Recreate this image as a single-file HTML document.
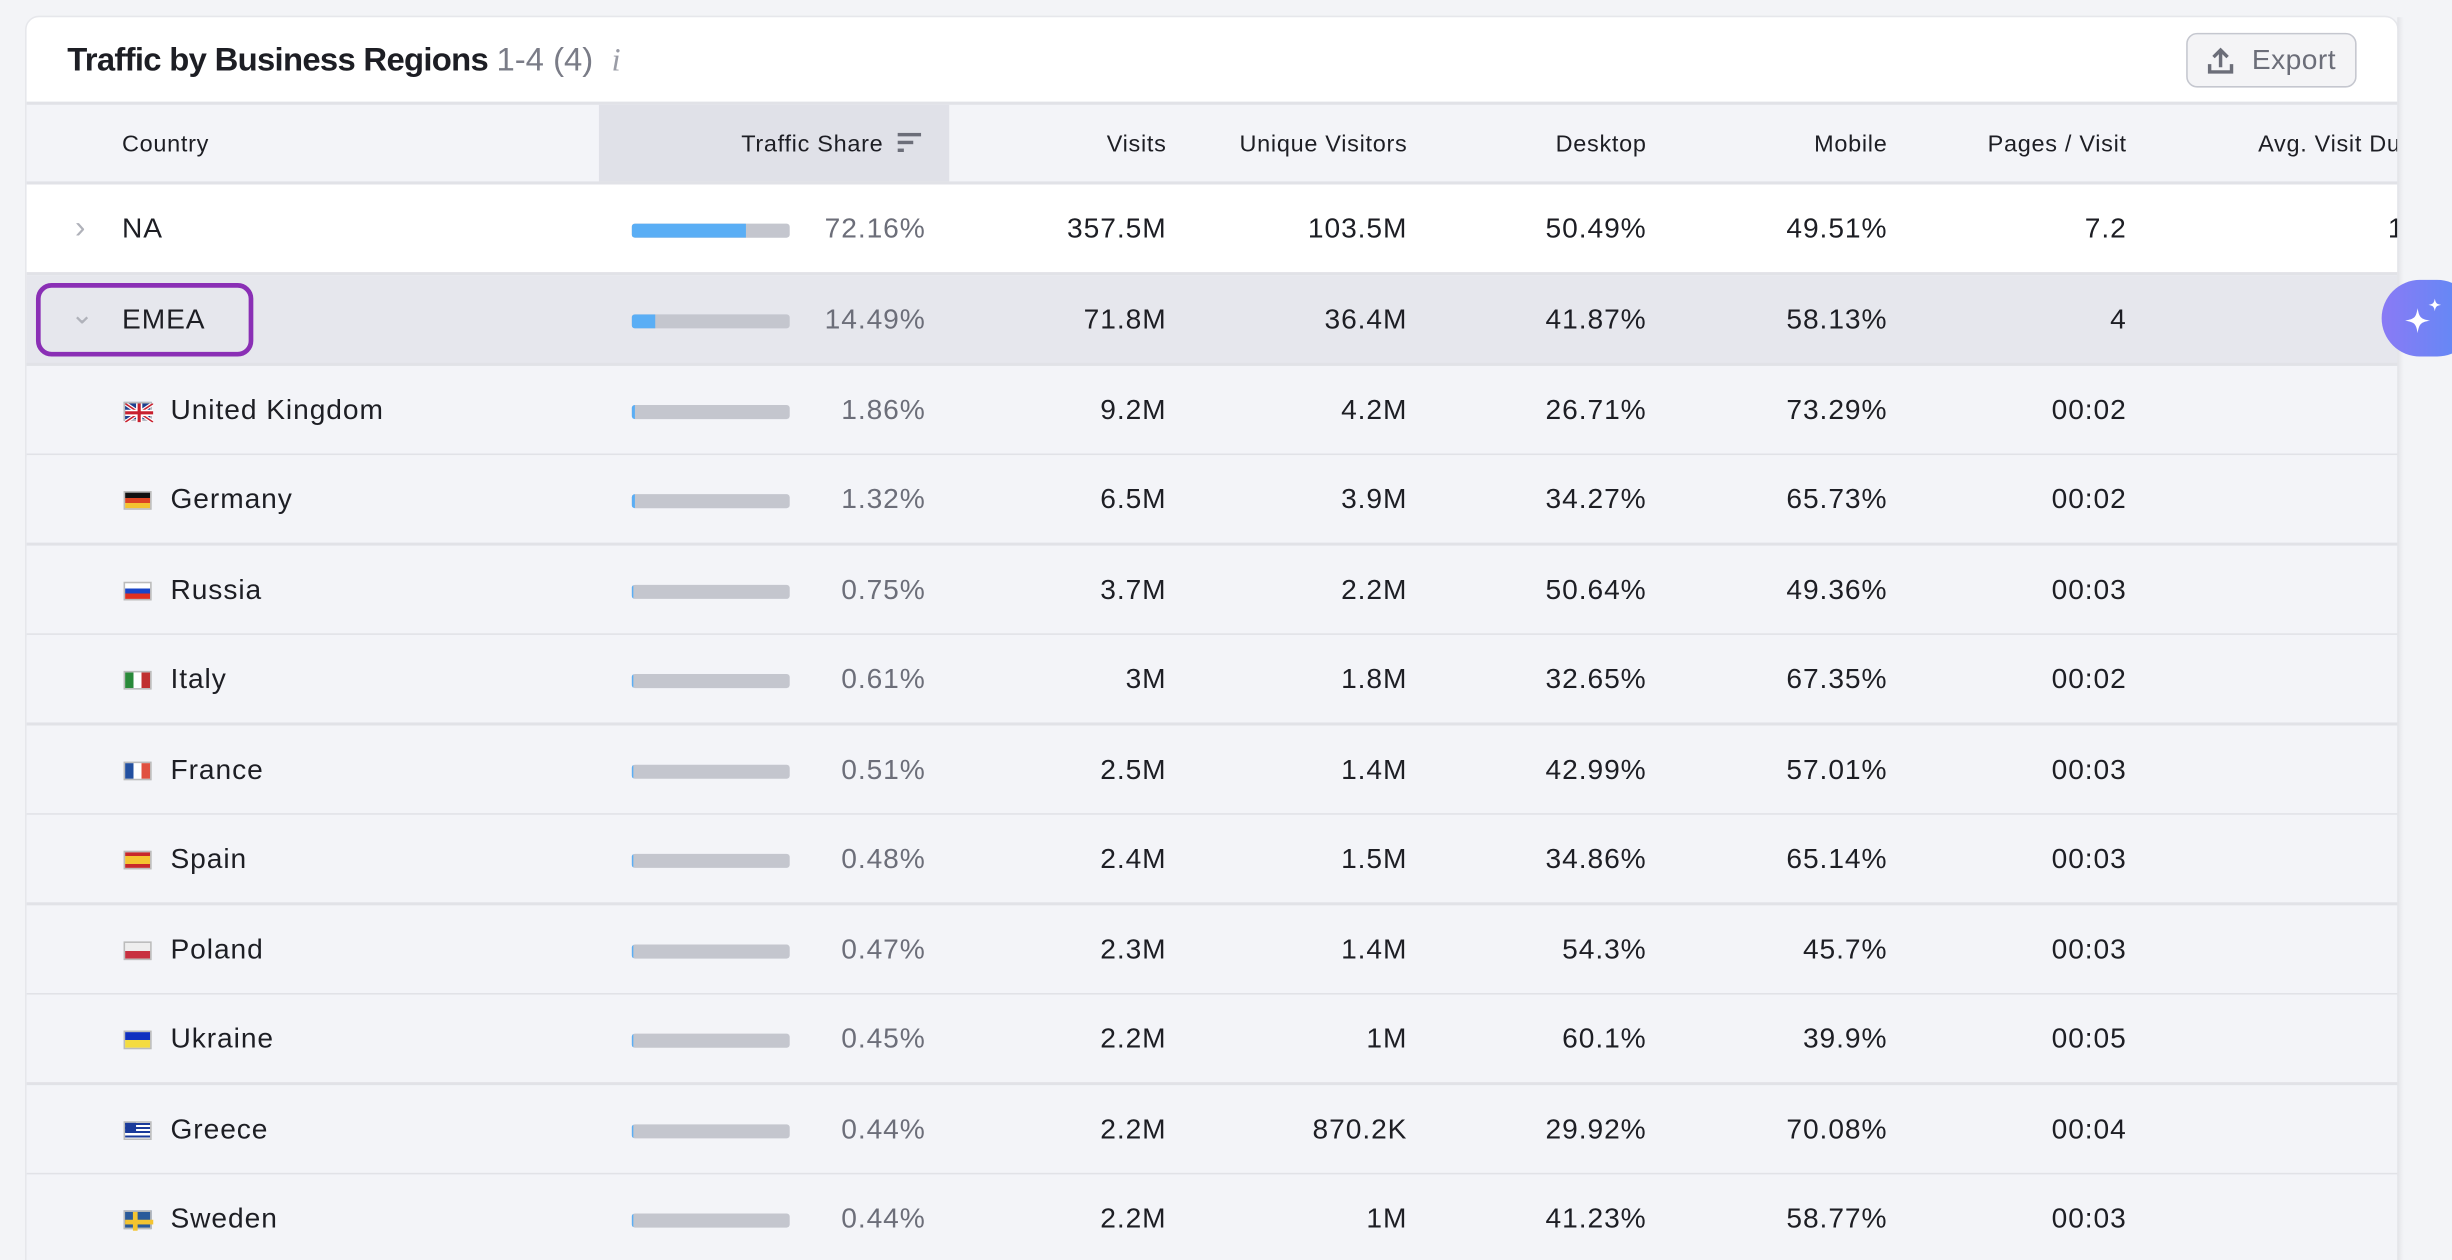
<!DOCTYPE html>
<html><head><meta charset="utf-8"><style>
*{margin:0;padding:0;box-sizing:border-box}
html,body{width:2452px;height:1260px;overflow:hidden;background:#f3f4f7}
#w{position:absolute;left:0;top:0;width:1568px;height:806px;transform:scale(1.56378);transform-origin:0 0;font-family:"Liberation Sans",sans-serif;color:#1d1e24;overflow:hidden}
.card{position:absolute;left:16px;top:10px;width:1518px;height:820px;background:#f3f4f8;border-radius:9px;border:1px solid #e6e7eb;overflow:hidden}
.top{position:absolute;left:0;top:0;width:1518px;height:55px;background:#fff}
.title{position:absolute;left:26px;top:15px;font-size:21px;font-weight:bold;letter-spacing:-0.45px}
.title span{font-weight:normal;color:#7a7c87;letter-spacing:0}
.export{position:absolute;left:1381px;top:10px;width:109px;height:35px;border:1.5px solid #c5c7cf;border-radius:7px;background:#f4f4f6;font-size:18px;color:#6c6e79;line-height:32px;padding-left:41px;letter-spacing:0.3px}
.hdr{position:absolute;left:0;top:54px;width:1518px;height:53px;background:#f3f4f8;border-top:2px solid #e1e2e7;border-bottom:2px solid #e1e2e7;font-size:15px;letter-spacing:0.45px}
.ts{position:absolute;left:366px;top:0;width:224px;height:49px;background:#e0e1e8}
.h{position:absolute;top:17px;white-space:nowrap}
.row{position:absolute;left:0;width:1518px;height:58px;border-bottom:2px solid #e1e2e7;background:#f3f4f8;font-size:18px;letter-spacing:0.6px}
.row span{position:absolute;top:18px;white-space:nowrap}
.bar{position:absolute;left:387px;top:25px;width:101px;height:9px;background:#c4c6ce;border-radius:2px;overflow:hidden}
.bar i{position:absolute;left:0;top:0;height:9px;background:#5aaef5}
.pct{color:#6c6e79}
.flag{position:absolute;left:62px;top:23px;width:18px;height:12px;border:0.5px solid #bbb}
</style></head><body><div id="w">
<div class="card">
<div class="top"></div>
<div class="title">Traffic by Business Regions <span>1-4 (4) &nbsp;<i style="font-family:'Liberation Serif',serif;color:#9a9ca6">i</i></span></div>
<div class="export"><svg style="position:absolute;left:12px;top:8px" width="18" height="18" viewBox="0 0 18 18"><path d="M9 13V2M4.5 6.5L9 2l4.5 4.5M2 11v5h14v-5" fill="none" stroke="#6c6e79" stroke-width="2.2"/></svg>Export</div>
<div class="hdr">
<div class="ts"></div>
<span class="h" style="left:61px">Country</span>
<span class="h" style="left:457px">Traffic Share</span>
<svg style="position:absolute;left:557px;top:17px" width="16" height="14"><rect x="0" y="1" width="15" height="2.2" fill="#6c6e79"/><rect x="0" y="6" width="10" height="2.2" fill="#6c6e79"/><rect x="0" y="11" width="4" height="2.2" fill="#6c6e79"/></svg>
<span class="h" style="right:789px">Visits</span>
<span class="h" style="right:635px">Unique Visitors</span>
<span class="h" style="right:482px">Desktop</span>
<span class="h" style="right:328px">Mobile</span>
<span class="h" style="right:175px">Pages / Visit</span>
<span class="h" style="left:1427px">Avg. Visit Duration</span>
</div>

<div class="row" style="top:107px;background:#fff"><span style="left:31px;color:#b0b2ba;top:17px;font-size:20px">›</span><span style="left:61px">NA</span><div class="bar"><i style="width:73px"></i></div><span class="pct" style="right:943px">72.16%</span><span style="right:789px">357.5M</span><span style="right:635px">103.5M</span><span style="right:482px">50.49%</span><span style="right:328px">49.51%</span><span style="right:175px">7.2</span><span style="left:1510px">1</span></div>
<div class="row" style="top:165px;background:#e6e7ed"><span style="left:28px;color:#b0b2ba;top:15px">⌄</span><span style="left:61px">EMEA</span><div class="bar"><i style="width:15px"></i></div><span class="pct" style="right:943px">14.49%</span><span style="right:789px">71.8M</span><span style="right:635px">36.4M</span><span style="right:482px">41.87%</span><span style="right:328px">58.13%</span><span style="right:175px">4</span></div>

<div class="row" style="top:222.5px"><div class="flag" style="background:#1f3f8f"><svg width="18" height="12" style="position:absolute;left:0;top:0"><path d="M0 0L18 12M18 0L0 12" stroke="#fff" stroke-width="2.5"/><path d="M0 0L18 12M18 0L0 12" stroke="#c8202f" stroke-width="1"/><path d="M9 0V12M0 6H18" stroke="#fff" stroke-width="4"/><path d="M9 0V12M0 6H18" stroke="#c8202f" stroke-width="2"/></svg></div><span style="left:92px">United Kingdom</span><div class="bar"><i style="width:2px"></i></div><span class="pct" style="right:943px">1.86%</span><span style="right:789px">9.2M</span><span style="right:635px">4.2M</span><span style="right:482px">26.71%</span><span style="right:328px">73.29%</span><span style="right:175px">00:02</span></div>
<div class="row" style="top:280px"><div class="flag" style="background:linear-gradient(#111 33%,#d42 33%,#d42 66%,#f4c430 66%)"></div><span style="left:92px">Germany</span><div class="bar"><i style="width:2px"></i></div><span class="pct" style="right:943px">1.32%</span><span style="right:789px">6.5M</span><span style="right:635px">3.9M</span><span style="right:482px">34.27%</span><span style="right:328px">65.73%</span><span style="right:175px">00:02</span></div>
<div class="row" style="top:337.5px"><div class="flag" style="background:linear-gradient(#fff 33%,#1a45c8 33%,#1a45c8 66%,#e03020 66%)"></div><span style="left:92px">Russia</span><div class="bar"><i style="width:1px"></i></div><span class="pct" style="right:943px">0.75%</span><span style="right:789px">3.7M</span><span style="right:635px">2.2M</span><span style="right:482px">50.64%</span><span style="right:328px">49.36%</span><span style="right:175px">00:03</span></div>
<div class="row" style="top:395px"><div class="flag" style="background:linear-gradient(90deg,#2a8a3a 33%,#fff 33%,#fff 66%,#c03030 66%)"></div><span style="left:92px">Italy</span><div class="bar"><i style="width:1px"></i></div><span class="pct" style="right:943px">0.61%</span><span style="right:789px">3M</span><span style="right:635px">1.8M</span><span style="right:482px">32.65%</span><span style="right:328px">67.35%</span><span style="right:175px">00:02</span></div>
<div class="row" style="top:452.5px"><div class="flag" style="background:linear-gradient(90deg,#2350a0 33%,#fff 33%,#fff 66%,#e05040 66%)"></div><span style="left:92px">France</span><div class="bar"><i style="width:1px"></i></div><span class="pct" style="right:943px">0.51%</span><span style="right:789px">2.5M</span><span style="right:635px">1.4M</span><span style="right:482px">42.99%</span><span style="right:328px">57.01%</span><span style="right:175px">00:03</span></div>
<div class="row" style="top:510px"><div class="flag" style="background:linear-gradient(#c8282a 25%,#f4c430 25%,#f4c430 75%,#c8282a 75%)"></div><span style="left:92px">Spain</span><div class="bar"><i style="width:1px"></i></div><span class="pct" style="right:943px">0.48%</span><span style="right:789px">2.4M</span><span style="right:635px">1.5M</span><span style="right:482px">34.86%</span><span style="right:328px">65.14%</span><span style="right:175px">00:03</span></div>
<div class="row" style="top:567.5px"><div class="flag" style="background:linear-gradient(#eee 50%,#c83040 50%)"></div><span style="left:92px">Poland</span><div class="bar"><i style="width:1px"></i></div><span class="pct" style="right:943px">0.47%</span><span style="right:789px">2.3M</span><span style="right:635px">1.4M</span><span style="right:482px">54.3%</span><span style="right:328px">45.7%</span><span style="right:175px">00:03</span></div>
<div class="row" style="top:625px"><div class="flag" style="background:linear-gradient(#1030c0 50%,#f4dc40 50%)"></div><span style="left:92px">Ukraine</span><div class="bar"><i style="width:1px"></i></div><span class="pct" style="right:943px">0.45%</span><span style="right:789px">2.2M</span><span style="right:635px">1M</span><span style="right:482px">60.1%</span><span style="right:328px">39.9%</span><span style="right:175px">00:05</span></div>
<div class="row" style="top:682.5px"><div class="flag" style="background:repeating-linear-gradient(#1a3a9a 0 1.33px,#fff 1.33px 2.67px)"><div style="position:absolute;left:0;top:0;width:7px;height:6px;background:#1a3a9a"></div></div><span style="left:92px">Greece</span><div class="bar"><i style="width:1px"></i></div><span class="pct" style="right:943px">0.44%</span><span style="right:789px">2.2M</span><span style="right:635px">870.2K</span><span style="right:482px">29.92%</span><span style="right:328px">70.08%</span><span style="right:175px">00:04</span></div>
<div class="row" style="top:740px;border-bottom:none;height:90px"><div class="flag" style="background:#2a5a9a"><div style="position:absolute;left:5px;top:0;width:3px;height:12px;background:#f4c430"></div><div style="position:absolute;left:0;top:4.5px;width:18px;height:3px;background:#f4c430"></div></div><span style="left:92px">Sweden</span><div class="bar"><i style="width:1px"></i></div><span class="pct" style="right:943px">0.44%</span><span style="right:789px">2.2M</span><span style="right:635px">1M</span><span style="right:482px">41.23%</span><span style="right:328px">58.77%</span><span style="right:175px">00:03</span></div>
</div>
<div style="position:absolute;left:1533px;top:11px;width:4px;height:795px;background:linear-gradient(90deg,#e2e3e7,#f3f4f7)"></div>
<div style="position:absolute;left:23px;top:181px;width:139px;height:47px;border:3.5px solid #8a2fb5;border-radius:10px"></div>
<div style="position:absolute;left:1523px;top:179px;width:60px;height:49px;border-radius:25px;background:linear-gradient(90deg,#8a7af5,#5b8cf5)"><svg width="30" height="30" style="position:absolute;left:13px;top:10px" viewBox="0 0 30 30"><path d="M10 8C11 14 12 15 18 16C12 17 11 18 10 24C9 18 8 17 2 16C8 15 9 14 10 8Z" fill="#fff"/><path d="M21 2C21.6 5 22 5.4 25 6C22 6.6 21.6 7 21 10C20.4 7 20 6.6 17 6C20 5.4 20.4 5 21 2Z" fill="#fff"/></svg></div>
</div></body></html>
